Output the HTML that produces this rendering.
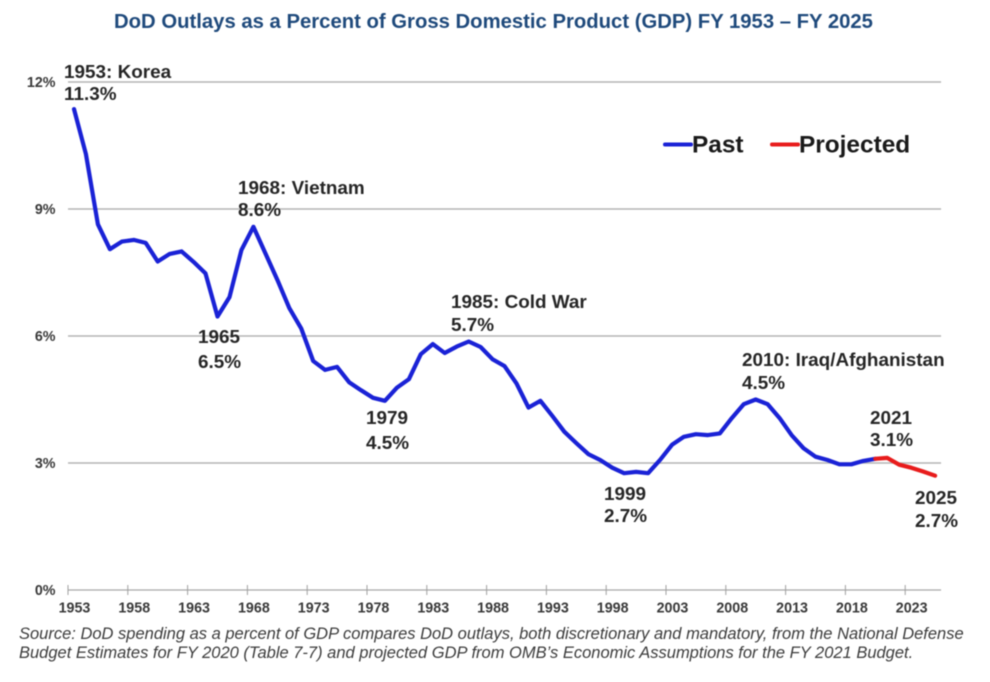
<!DOCTYPE html>
<html lang="en">
<head>
<meta charset="utf-8">
<title>DoD Outlays as a Percent of GDP</title>
<style>
html,body{margin:0;padding:0;background:#fff;}
body{width:990px;height:682px;overflow:hidden;}
svg{display:block;filter:blur(0.6px);}
text{font-family:"Liberation Sans",Arial,sans-serif;}
.ann{font-size:18.9px;font-weight:bold;fill:#262626;}
.tick{font-size:14.3px;font-weight:bold;fill:#3a3a3a;}
.src{font-size:16.5px;font-style:italic;fill:#3c3c3c;}
</style>
</head>
<body>
<svg id="chart" width="990" height="682" viewBox="0 0 990 682" xmlns="http://www.w3.org/2000/svg">
  <rect x="0" y="0" width="990" height="682" fill="#fff"/>
  <text x="493.5" y="28" text-anchor="middle" font-size="20.3" font-weight="bold" fill="#1f4a7c">DoD Outlays as a Percent of Gross Domestic Product (GDP) FY 1953 – FY 2025</text>
  <g id="grid"></g>
  <g id="axes"></g>
  <g id="series"></g>
  <g id="annotations"></g>
  <g>
    <line x1="665" y1="144.5" x2="691" y2="144.5" stroke="#1a22d6" stroke-width="4" stroke-linecap="round"/>
    <text x="692" y="152.5" font-size="24.4" font-weight="bold" fill="#1a1a1a">Past</text>
    <line x1="772" y1="144.5" x2="798" y2="144.5" stroke="#e81c1c" stroke-width="4" stroke-linecap="round"/>
    <text x="799" y="152.5" font-size="24.4" font-weight="bold" fill="#1a1a1a">Projected</text>
  </g>
  <text class="src" x="19" y="639">Source: DoD spending as a percent of GDP compares DoD outlays, both discretionary and mandatory, from the National Defense</text>
  <text class="src" x="19" y="658">Budget Estimates for FY 2020 (Table 7-7) and projected GDP from OMB’s Economic Assumptions for the FY 2021 Budget.</text>
</svg>
<script>
var firstYear = 1953;
var pastValues = [11.36,10.3,8.64,8.05,8.23,8.27,8.2,7.76,7.94,8.0,7.75,7.48,6.46,6.92,8.03,8.58,7.96,7.33,6.66,6.18,5.41,5.2,5.27,4.91,4.72,4.54,4.47,4.78,4.98,5.57,5.81,5.6,5.75,5.87,5.74,5.45,5.29,4.88,4.31,4.47,4.11,3.74,3.47,3.21,3.07,2.89,2.76,2.79,2.76,3.07,3.43,3.62,3.68,3.66,3.7,4.06,4.39,4.5,4.39,4.06,3.66,3.35,3.15,3.07,2.97,2.97,3.05,3.1];
var projectedValues = [3.1,3.12,2.96,2.89,2.8,2.7];
var projectedStartYear = 2020;
var yTicks = [0,3,6,9,12];
var xTickYears = [1953,1958,1963,1968,1973,1978,1983,1988,1993,1998,2003,2008,2013,2018,2023];
var annotationLines = [
  ["1953: Korea","11.3%"],
  ["1968: Vietnam","8.6%"],
  ["1965","6.5%"],
  ["1985: Cold War","5.7%"],
  ["1979","4.5%"],
  ["1999","2.7%"],
  ["2010: Iraq/Afghanistan","4.5%"],
  ["2021","3.1%"],
  ["2025","2.7%"]
];

var NS = 'http://www.w3.org/2000/svg';
var categoryCount = pastValues.length + projectedValues.length - 1;
var plotLeft = 68, catWidth = 11.96, plotBottom = 590, pxPerUnit = 42.33;
function xBand(year){ return plotLeft + (year - firstYear) * catWidth; }
function xPos(year){ return xBand(year) + catWidth / 2; }
function yPos(v){ return plotBottom - v * pxPerUnit; }
function make(tag, attrs, parent){
  var el = document.createElementNS(NS, tag);
  for (var k in attrs) el.setAttribute(k, attrs[k]);
  parent.appendChild(el);
  return el;
}
var grid = document.getElementById('grid');
var axes = document.getElementById('axes');
var series = document.getElementById('series');
var annotations = document.getElementById('annotations');
var plotRight = xBand(firstYear + categoryCount);

yTicks.forEach(function(t){
  var lab = make('text', {x: 55.5, y: yPos(t) + 5, 'text-anchor': 'end', 'class': 'tick'}, axes);
  lab.textContent = t + '%';
  
  
  if (t > 0) {
    var g = make('line', {x1: plotLeft, x2: plotRight, y1: yPos(t), y2: yPos(t), stroke: '#b4b4b4', 'stroke-width': 1.5}, grid);
    
    
  }
});

var axisLine = make('line', {x1: plotLeft, x2: plotRight, y1: plotBottom, y2: plotBottom, stroke: '#a8a8a8', 'stroke-width': 1.2}, axes);



xTickYears.forEach(function(yr){
  var tk = make('line', {x1: xBand(yr), x2: xBand(yr), y1: plotBottom - 5, y2: plotBottom + 5, stroke: '#a0a0a0', 'stroke-width': 1}, axes);
  
  
  var lab = make('text', {x: xPos(yr) + 0.5, y: 612.5, 'text-anchor': 'middle', 'class': 'tick'}, axes);
  lab.textContent = yr;
  
  
});

function buildPath(values, startYear){
  return values.map(function(v, i){
    return (i ? 'L' : 'M') + xPos(startYear + i).toFixed(1) + ' ' + yPos(v).toFixed(1);
  }).join(' ');
}
var pastLine = make('path', {d: buildPath(pastValues, firstYear), fill: 'none', stroke: '#1a22d6', 'stroke-width': 4.2, 'stroke-linejoin': 'round', 'stroke-linecap': 'round'}, series);


var projLine = make('path', {d: buildPath(projectedValues, projectedStartYear), fill: 'none', stroke: '#e81c1c', 'stroke-width': 4.2, 'stroke-linejoin': 'round', 'stroke-linecap': 'round'}, series);



var annotationAnchors = [[64,78,100],[238,194,216],[198,343,368],[451,308,331],[366,424,449],[604,500,522],[742,366,389],[870,424,446],[915,504,527]];
annotationLines.forEach(function(pair, i){
  var a = annotationAnchors[i];
  var t1 = make('text', {x: a[0], y: a[1], 'class': 'ann'}, annotations);
  t1.textContent = pair[0];
  
  
  var t2 = make('text', {x: a[0], y: a[2], 'class': 'ann'}, annotations);
  t2.textContent = pair[1];
  
  
});
</script>
</body>
</html>
